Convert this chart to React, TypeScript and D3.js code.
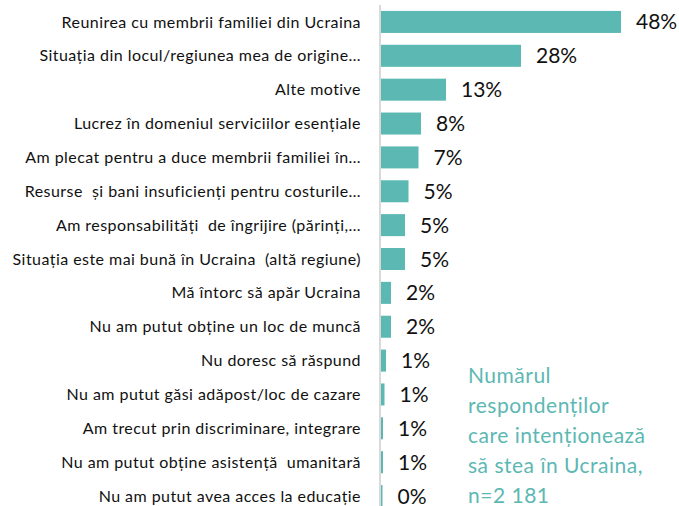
import React, { useRef, useEffect } from "react";
import * as d3 from "d3";

const categories = [
  "Reunirea cu membrii familiei din Ucraina",
  "Situația din locul/regiunea mea de origine…",
  "Alte motive",
  "Lucrez în domeniul serviciilor esențiale",
  "Am plecat pentru a duce membrii familiei în…",
  "Resurse  și bani insuficienți pentru costurile…",
  "Am responsabilități  de îngrijire (părinți,…",
  "Situația este mai bună în Ucraina  (altă regiune)",
  "Mă întorc să apăr Ucraina",
  "Nu am putut obține un loc de muncă",
  "Nu doresc să răspund",
  "Nu am putut găsi adăpost/loc de cazare",
  "Am trecut prin discriminare, integrare",
  "Nu am putut obține asistență  umanitară",
  "Nu am putut avea acces la educație",
];
const values = [48, 28, 13, 8, 7.5, 5.5, 4.8, 4.8, 2, 2, 1, 0.7, 0.4, 0.4, 0.3];
const valueLabels = ["48%", "28%", "13%", "8%", "7%", "5%", "5%", "5%", "2%", "2%", "1%", "1%", "1%", "1%", "0%"];
const noteLines = [
  "Numărul",
  "respondenților",
  "care intenționează",
  "să stea în Ucraina,",
  "n=2 181",
];

const teal = "#5cb8b3";

const App = () => {
  const svgRef = useRef<SVGSVGElement>(null);

  useEffect(() => {
    const w = 679;
    const h = 506;
    const svg = d3.select(svgRef.current).attr("width", w).attr("height", h);
    svg.selectAll("*").remove();

    const x = d3.scaleLinear().domain([0, 48]).range([380, 620]);
    const y = d3
      .scaleBand()
      .domain(categories)
      .range([5, 513])
      .paddingInner(0.35)
      .paddingOuter(0.175);

    const rows = categories.map((c, i) => ({ c, v: values[i], lab: valueLabels[i] }));

    svg
      .selectAll(".bar")
      .data(rows)
      .enter()
      .append("rect")
      .attr("class", "bar")
      .attr("x", x(0) + 1)
      .attr("y", (d) => y(d.c)!)
      .attr("width", (d) => x(d.v) - x(0))
      .attr("height", y.bandwidth())
      .attr("fill", teal);

    // vertical axis line
    svg
      .append("line")
      .attr("x1", x(0))
      .attr("x2", x(0))
      .attr("y1", 5)
      .attr("y2", h)
      .attr("stroke", "#d9d9d9")
      .attr("stroke-width", 2);

    // category labels
    svg
      .selectAll(".cat")
      .data(rows)
      .enter()
      .append("text")
      .attr("class", "cat")
      .attr("x", 361)
      .attr("y", (d) => y(d.c)! + y.bandwidth() / 2)
      .attr("dy", "0.35em")
      .attr("text-anchor", "end")
      .attr("font-family", "Lato, sans-serif")
      .attr("font-size", 16)
      .attr("letter-spacing", 0.45)
      .attr("fill", "#111")
      .attr("xml:space", "preserve")
      .text((d) => d.c);

    // value labels
    svg
      .selectAll(".val")
      .data(rows)
      .enter()
      .append("text")
      .attr("class", "val")
      .attr("x", (d) => x(d.v) + 16)
      .attr("y", (d) => y(d.c)! + y.bandwidth() / 2)
      .attr("dy", "0.36em")
      .attr("font-family", "Lato, sans-serif")
      .attr("font-size", 21)
      .attr("fill", "#111")
      .text((d) => d.lab);

    // note
    svg
      .append("text")
      .attr("font-family", "Lato, sans-serif")
      .attr("font-size", 21)
      .attr("letter-spacing", 0.5)
      .attr("fill", teal)
      .selectAll("tspan")
      .data(noteLines)
      .enter()
      .append("tspan")
      .attr("x", 468)
      .attr("y", (d, i) => 383 + i * 30)
      .text((d) => d);
  }, []);

  return (
    <div style={{ position: "absolute", left: 0, top: 0, background: "#fff" }}>
      <svg ref={svgRef}></svg>
    </div>
  );
};

export default App;
